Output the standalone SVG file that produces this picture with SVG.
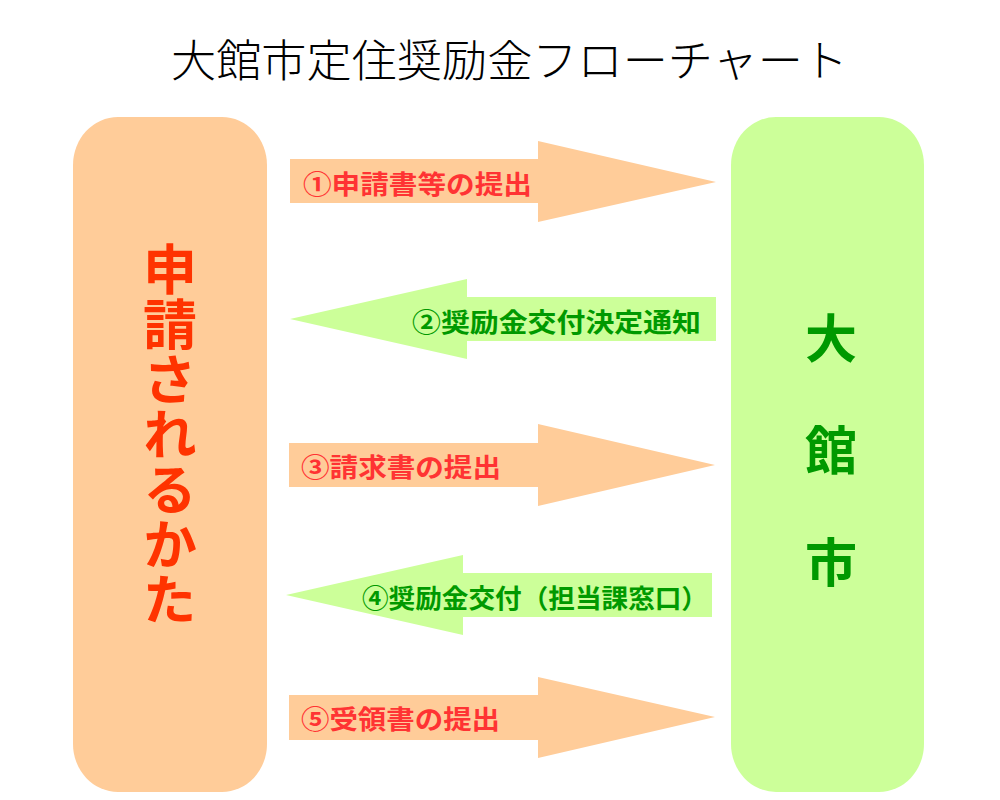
<svg xmlns="http://www.w3.org/2000/svg" width="1000" height="800" viewBox="0 0 1000 800">
<style>
.t{font-family:"Noto Sans CJK JP","Noto Sans CJK SC",sans-serif;}
.title{font-size:44px;font-weight:300;fill:#000;}
.lbl{font-size:26px;font-weight:bold;}
.red{fill:#FF3333;}
.grn{fill:#009900;}
.orange{fill:#FFCC99;}
.lime{fill:#CCFF99;}
.big{font-size:54px;font-weight:bold;text-anchor:middle;}
</style>
<rect width="1000" height="800" fill="#fff"/>
<text class="t title" x="171" y="77" textLength="677" lengthAdjust="spacingAndGlyphs">大館市定住奨励金フローチャート</text>
<g id="applicant">
<rect class="orange" x="73" y="117" width="194" height="675" rx="45" ry="48"/>
<text class="t" x="170" y="242" writing-mode="vertical-rl" style="font-size:54px;font-weight:bold;fill:#FF3300;letter-spacing:1px">申請されるかた</text>
</g>
<g id="city">
<rect class="lime" x="731" y="117" width="193" height="675" rx="45" ry="48"/>
<text class="t big grn" style="font-size:52px">
<tspan x="831" y="358">大</tspan><tspan x="831" y="470">館</tspan><tspan x="831" y="582">市</tspan>
</text>
</g>
<g id="connectors">
<g id="arrow1">
<polygon class="orange" points="290,159 538,159 538,141 716,182 538,222 538,203 290,203"/>
<text class="t lbl red" x="303" y="194" textLength="229" lengthAdjust="spacingAndGlyphs">①申請書等の提出</text>
</g>
<g id="arrow2">
<polygon class="lime" points="716,297 467,297 467,279 290,319 467,359 467,341 716,341"/>
<text class="t lbl grn" x="412" y="332" textLength="289" lengthAdjust="spacingAndGlyphs">②奨励金交付決定通知</text>
</g>
<g id="arrow3">
<polygon class="orange" points="289,443 538,443 538,424 715,465 538,506 538,487 289,487"/>
<text class="t lbl red" x="301" y="477" textLength="200" lengthAdjust="spacingAndGlyphs">③請求書の提出</text>
</g>
<g id="arrow4">
<polygon class="lime" points="712,573 463,573 463,555 286,595 463,635 463,617 712,617"/>
<text class="t lbl grn" x="362" y="608" textLength="346" lengthAdjust="spacingAndGlyphs">④奨励金交付（担当課窓口）</text>
</g>
<g id="arrow5">
<polygon class="orange" points="289,695 538,695 538,677 715,717 538,758 538,740 289,740"/>
<text class="t lbl red" x="301" y="729" textLength="199" lengthAdjust="spacingAndGlyphs">⑤受領書の提出</text>
</g>
</g>
</svg>
